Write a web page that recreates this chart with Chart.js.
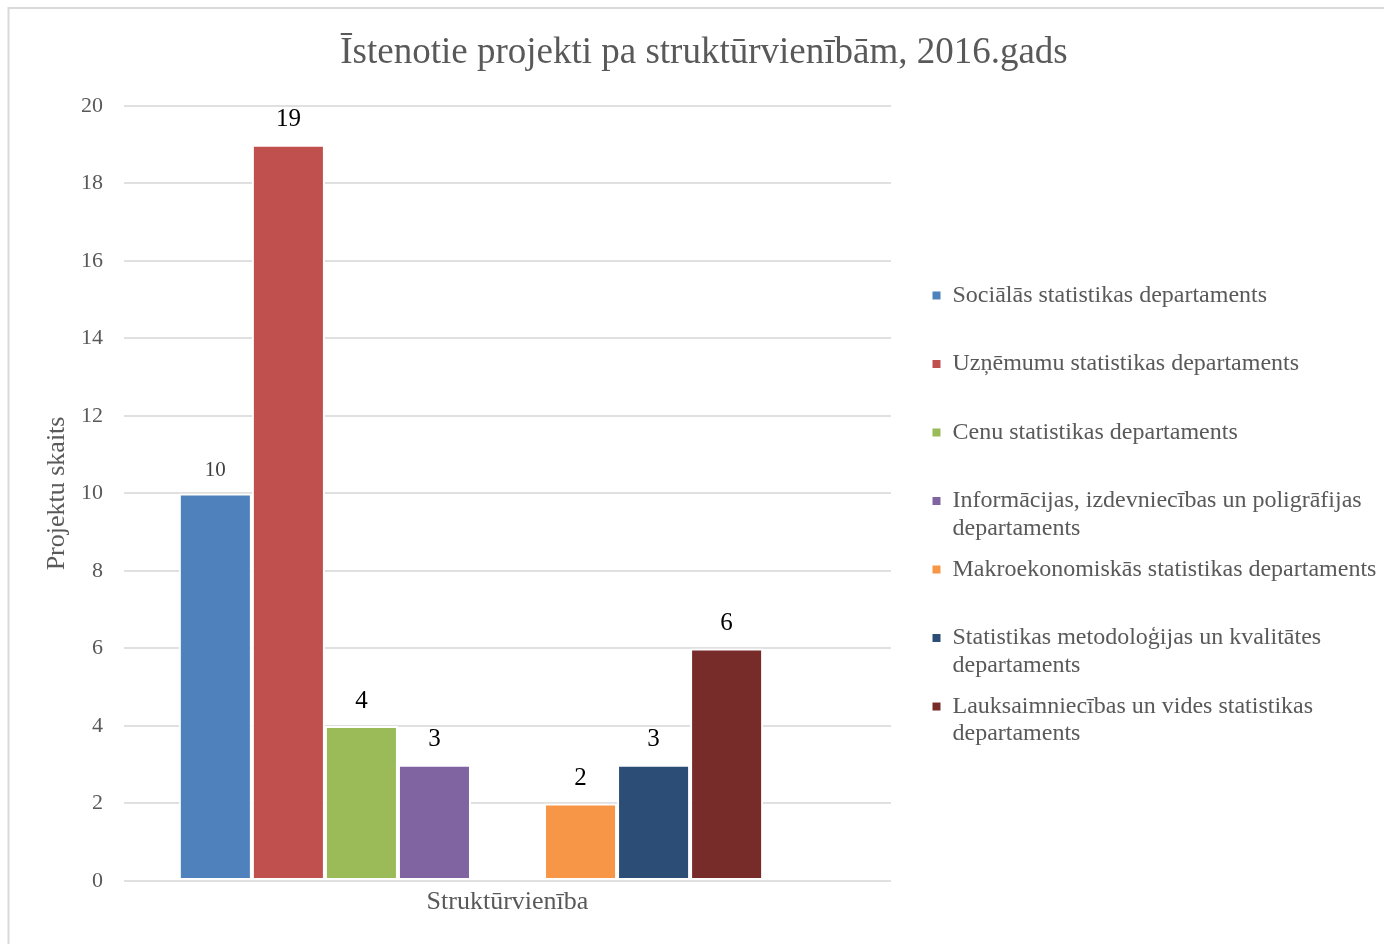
<!DOCTYPE html>
<html>
<head>
<meta charset="utf-8">
<script src="https://cdn.jsdelivr.net/npm/chart.js@4.4.1/dist/chart.umd.min.js"></script>
<style>
html,body{margin:0;padding:0;background:#fff;}
#wrap{width:1384px;height:944px;position:relative;}
</style>
</head>
<body>
<div id="wrap"><canvas id="c" width="1384" height="944"></canvas></div>
<script>
// ---- data ----
const categories = ['Struktūrvienība'];
const seriesNames = [
  'Sociālās statistikas departaments',
  'Uzņēmumu statistikas departaments',
  'Cenu statistikas departaments',
  'Informācijas, izdevniecības un poligrāfijas departaments',
  '',
  'Makroekonomiskās statistikas departaments',
  'Statistikas metodoloģijas un kvalitātes departaments',
  'Lauksaimniecības un vides statistikas departaments',
  ''
];
const seriesValues = [10, 19, 4, 3, null, 2, 3, 6, null];
const seriesColors = ['#4f81bd', '#c0504d', '#9bbb59', '#8064a2', 'rgba(0,0,0,0)', '#f79646', '#2c4d75', '#772c2a', 'rgba(0,0,0,0)'];
const yMin = 0, yMax = 20, yStep = 2;
const chartTitle = 'Īstenotie projekti pa struktūrvienībām, 2016.gads';
const yTitle = 'Projektu skaits';

const SERIF = '"Liberation Serif", "Times New Roman", serif';
const GREY = '#595959';

const datasets = seriesNames.map((name, i) => ({
  label: name,
  data: [seriesValues[i]],
  backgroundColor: seriesColors[i],
  borderColor: '#ffffff',
  borderWidth: 2,
  borderSkipped: false,
  yAxisID: 'y'
}));

const framePlugin = {
  id: 'frame',
  beforeDraw(chart) {
    const ctx = chart.ctx;
    ctx.save();
    ctx.fillStyle = '#fff';
    ctx.fillRect(0, 0, chart.width, chart.height);
    ctx.strokeStyle = '#d9d9d9';
    ctx.lineWidth = 2;
    ctx.beginPath();
    ctx.moveTo(8.5, chart.height);
    ctx.lineTo(8.5, 8);
    ctx.lineTo(chart.width, 8);
    ctx.stroke();
    ctx.restore();
  }
};

const valueLabels = {
  id: 'valueLabels',
  afterDatasetsDraw(chart) {
    const ctx = chart.ctx;
    ctx.save();
    ctx.textAlign = 'center';
    ctx.textBaseline = 'middle';
    chart.data.datasets.forEach((ds, i) => {
      const v = ds.data[0];
      if (v === null || v === undefined) return;
      const bar = chart.getDatasetMeta(i).data[0];
      if (i === 0) {
        ctx.font = '21px ' + SERIF;
        ctx.fillStyle = '#404040';
        ctx.fillText(String(v), bar.x, bar.y - 23);
      } else {
        ctx.font = '25px ' + SERIF;
        ctx.fillStyle = '#000000';
        ctx.fillText(String(v), bar.x, bar.y - 25);
      }
    });
    ctx.restore();
  }
};

new Chart(document.getElementById('c'), {
  type: 'bar',
  data: { labels: categories, datasets },
  plugins: [framePlugin, valueLabels],
  options: {
    responsive: false,
    animation: false,
    devicePixelRatio: 1,
    layout: { padding: { left: 24, right: 0, top: 0, bottom: 0 } },
    datasets: { bar: { categoryPercentage: 0.857, barPercentage: 1 } },
    plugins: {
      tooltip: { enabled: false },
      title: {
        display: true,
        text: chartTitle,
        color: GREY,
        font: { family: SERIF, size: 37, weight: 'normal' },
        padding: { top: 31, bottom: 30.5 }
      },
      legend: {
        display: true,
        position: 'right',
        align: 'center',
        maxWidth: 465,
        title: { display: true, text: ' ', font: { size: 10, lineHeight: 1 }, padding: { top: 79, bottom: 0 } },
        labels: {
          boxWidth: 8,
          boxHeight: 8,
          padding: 13.5,
          color: GREY,
          font: { family: SERIF, size: 24, lineHeight: 1.146 },
          generateLabels(chart) {
            const ctx = chart.ctx;
            ctx.save();
            ctx.font = '24px ' + SERIF;
            const items = [];
            chart.data.datasets.forEach((ds, i) => {
              if (!ds.label) return;
              const words = ds.label.split(' ');
              const lines = [];
              let cur = '';
              words.forEach(w => {
                const t = cur ? cur + ' ' + w : w;
                if (cur && ctx.measureText(t).width > 445) { lines.push(cur); cur = w; }
                else cur = t;
              });
              lines.push(cur);
              while (lines.length < 2) lines.push('');
              items.push({
                text: lines,
                fillStyle: ds.backgroundColor,
                strokeStyle: ds.backgroundColor,
                lineWidth: 0,
                hidden: false,
                fontColor: GREY,
                datasetIndex: i
              });
            });
            ctx.restore();
            return items;
          }
        }
      }
    },
    scales: {
      x: {
        grid: { display: false, drawTicks: false },
        border: { display: false },
        ticks: { color: GREY, font: { family: SERIF, size: 26 }, padding: 6 },
        afterFit(s) { s.height = 63; }
      },
      y: {
        position: 'left',
        min: yMin,
        max: yMax,
        ticks: { stepSize: yStep, color: GREY, font: { family: SERIF, size: 22 }, padding: 21 },
        grid: { color: '#e0e0e0', lineWidth: 2, drawTicks: false },
        border: { display: false },
        title: {
          display: true,
          text: yTitle,
          color: GREY,
          font: { family: SERIF, size: 26 },
          padding: { top: 18, bottom: 0 }
        },
        afterFit(s) { s.width = 100; }
      },
      yRight: {
        position: 'right',
        display: true,
        min: yMin,
        max: yMax,
        ticks: { display: false },
        grid: { display: false, drawTicks: false },
        border: { display: false },
        afterFit(s) {
          const lw = (s.chart.legend && s.chart.legend.width) ? s.chart.legend.width : 463;
          s.width = Math.max(0, s.chart.width - 891 - lw);
        }
      }
    }
  }
});
</script>
</body>
</html>
